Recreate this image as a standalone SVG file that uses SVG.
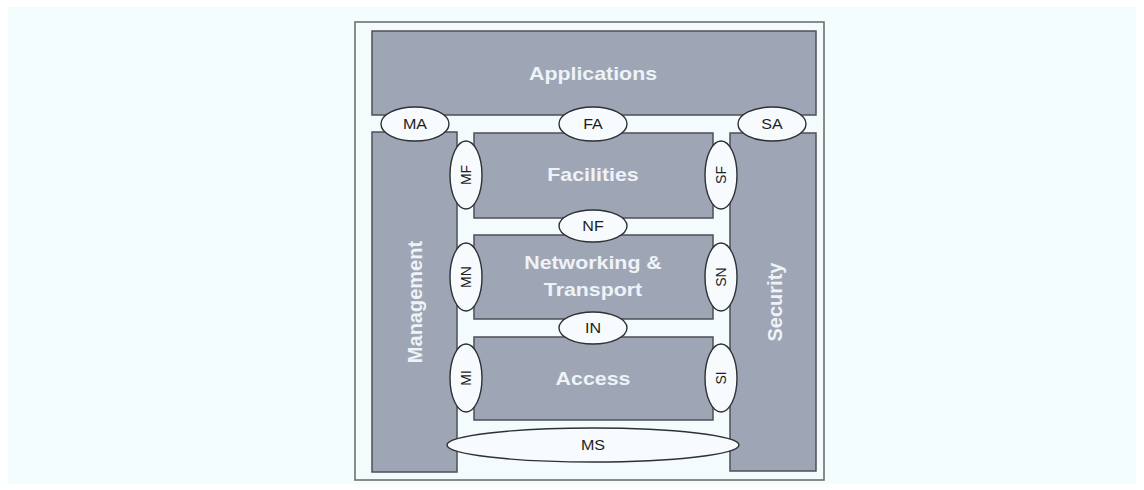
<svg xmlns="http://www.w3.org/2000/svg" width="1144" height="490" viewBox="0 0 1144 490">
  <style>
    .box { fill: #9ea6b5; stroke: #4d4f55; stroke-width: 1.5; }
    .big { font-family: "Liberation Sans", Arial, sans-serif; font-weight: bold; fill: #eef3f8; text-anchor: middle; }
    .ell { fill: #f7fbfd; stroke: #2e3035; stroke-width: 1.4; }
    .lbl { font-family: "Liberation Sans", Arial, sans-serif; font-size: 14px; fill: #1e1e1e; text-anchor: middle; }
  </style>
  <rect x="0" y="0" width="1144" height="490" fill="#ffffff"/>
  <rect x="8" y="7" width="1128" height="477" fill="#f3fdfd"/>
  <rect id="frame" x="355" y="22" width="469" height="458" fill="#f4fbfc" stroke="#707070" stroke-width="1.6"/>

  <g id="applications">
    <rect class="box" x="372" y="31" width="444" height="84"/>
    <text class="big" font-size="17.5" transform="translate(593,80) scale(1.22,1)">Applications</text>
  </g>
  <g id="management">
    <rect class="box" x="372" y="132" width="85" height="340"/>
    <text class="big" font-size="20" transform="translate(422,302) rotate(-90)">Management</text>
  </g>
  <g id="security">
    <rect class="box" x="730" y="133" width="86" height="338"/>
    <text class="big" font-size="20" transform="translate(782,302) rotate(-90)">Security</text>
  </g>
  <g id="facilities">
    <rect class="box" x="474" y="133" width="239" height="85"/>
    <text class="big" font-size="17.5" transform="translate(593,181) scale(1.22,1)">Facilities</text>
  </g>
  <g id="networking">
    <rect class="box" x="474" y="235" width="239" height="84"/>
    <text class="big" font-size="17.5" transform="translate(593,269) scale(1.22,1)">Networking &amp;</text>
    <text class="big" font-size="17.5" transform="translate(593,296) scale(1.22,1)">Transport</text>
  </g>
  <g id="access">
    <rect class="box" x="474" y="337" width="239" height="83"/>
    <text class="big" font-size="17.5" transform="translate(593,385) scale(1.22,1)">Access</text>
  </g>

  <g id="interfaces">
    <g id="MA"><ellipse class="ell" cx="415" cy="124" rx="34" ry="17"/><text class="lbl" transform="translate(415,129) scale(1.15,1)">MA</text></g>
    <g id="FA"><ellipse class="ell" cx="593" cy="124" rx="34" ry="17"/><text class="lbl" transform="translate(593,129) scale(1.15,1)">FA</text></g>
    <g id="SA"><ellipse class="ell" cx="772" cy="124" rx="34" ry="17"/><text class="lbl" transform="translate(772,129) scale(1.15,1)">SA</text></g>
    <g id="NF"><ellipse class="ell" cx="593" cy="226" rx="34" ry="16"/><text class="lbl" transform="translate(593,231) scale(1.15,1)">NF</text></g>
    <g id="IN"><ellipse class="ell" cx="593" cy="328" rx="34" ry="16"/><text class="lbl" transform="translate(593,333) scale(1.15,1)">IN</text></g>
    <g id="MF"><ellipse class="ell" cx="466" cy="175" rx="16" ry="34"/><text class="lbl" font-size="15" transform="translate(471,175) rotate(-90)">MF</text></g>
    <g id="SF"><ellipse class="ell" cx="721" cy="175" rx="16" ry="34"/><text class="lbl" font-size="15" transform="translate(726,175) rotate(-90)">SF</text></g>
    <g id="MN"><ellipse class="ell" cx="466" cy="277" rx="16" ry="34"/><text class="lbl" font-size="15" transform="translate(471,277) rotate(-90)">MN</text></g>
    <g id="SN"><ellipse class="ell" cx="721" cy="277" rx="16" ry="34"/><text class="lbl" font-size="15" transform="translate(726,277) rotate(-90)">SN</text></g>
    <g id="MI"><ellipse class="ell" cx="466" cy="378" rx="16" ry="34"/><text class="lbl" font-size="15" transform="translate(471,378) rotate(-90)">MI</text></g>
    <g id="SI"><ellipse class="ell" cx="721" cy="378" rx="16" ry="34"/><text class="lbl" font-size="15" transform="translate(726,378) rotate(-90)">SI</text></g>
    <g id="MS"><ellipse class="ell" cx="593" cy="445" rx="146" ry="17"/><text class="lbl" transform="translate(593,450) scale(1.15,1)">MS</text></g>
  </g>
</svg>
